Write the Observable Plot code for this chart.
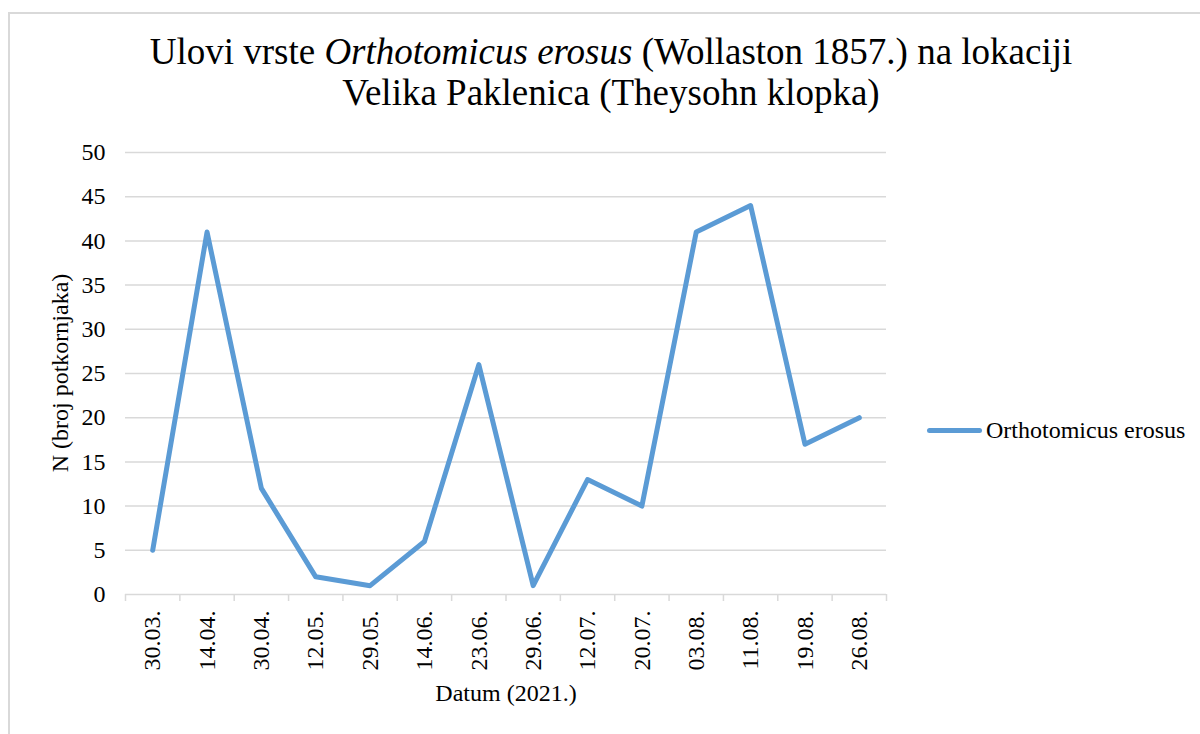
<!DOCTYPE html>
<html>
<head>
<meta charset="utf-8">
<script src="https://cdn.jsdelivr.net/npm/d3@7"></script>
<script src="https://cdn.jsdelivr.net/npm/@observablehq/plot@0.6"></script>
<style>
  html, body { margin: 0; padding: 0; background: #fff; }
  body { width: 1200px; height: 734px; position: relative; overflow: hidden; font-family: "Liberation Serif", "Times New Roman", Tinos, "DejaVu Serif", serif; color: #000; }
  #frame { position: absolute; left: 8px; top: 12px; width: 1300px; height: 800px; border: 2px solid #d9d9d9; box-sizing: border-box; }
  #title { position: absolute; left: 111px; width: 1000px; top: 31px; text-align: center; font-size: 37px; line-height: 41px; white-space: nowrap; }
  #chart { position: absolute; left: 0; top: 130px; }
  #ytitle { position: absolute; left: 60px; top: 373px; transform: translate(-50%, -50%) rotate(-90deg); font-size: 24px; white-space: nowrap; }
  #xtitle { position: absolute; left: 506px; top: 680px; transform: translateX(-50%); font-size: 24px; white-space: nowrap; }
  #legend { position: absolute; left: 927px; top: 417px; font-size: 24px; white-space: nowrap; display: flex; align-items: center; }
  #legend .sw { display: inline-block; width: 55px; height: 5px; border-radius: 3px; background: #5B9BD5; margin-right: 4px; }
</style>
</head>
<body>
<div id="frame"></div>
<div id="title">Ulovi vrste <i>Orthotomicus erosus</i> (Wollaston 1857.) na lokaciji<br>Velika Paklenica (Theysohn klopka)</div>
<div id="chart"></div>
<div id="ytitle">N (broj potkornjaka)</div>
<div id="xtitle">Datum (2021.)</div>
<div id="legend"><span class="sw"></span><span>Orthotomicus erosus</span></div>
<script>
const dates = ["30.03.", "14.04.", "30.04.", "12.05.", "29.05.", "14.06.", "23.06.", "29.06.", "12.07.", "20.07.", "03.08.", "11.08.", "19.08.", "26.08."];
const counts = [5, 41, 12, 2, 1, 6, 26, 1, 13, 10, 41, 44, 17, 20];
const yTicks = [0, 5, 10, 15, 20, 25, 30, 35, 40, 45, 50];
const seriesName = "Orthotomicus erosus";

const data = dates.map((d, i) => ({date: d, idx: i + 0.5, n: counts[i]}));
const centers = dates.map((d, i) => i + 0.5);
const bounds = d3.range(dates.length + 1);

const chart = Plot.plot({
  width: 1200,
  height: 604,
  marginLeft: 125,
  marginRight: 314,
  marginTop: 22,
  marginBottom: 140,
  style: {fontFamily: "'Liberation Serif', 'Times New Roman', Tinos, 'DejaVu Serif', serif", fontSize: "24px", color: "#000", background: "transparent"},
  x: {type: "linear", domain: [0, dates.length]},
  y: {domain: [0, 50]},
  marks: [
    Plot.ruleY(yTicks.filter(t => t > 0), {stroke: "#d9d9d9", strokeWidth: 1.5}),
    Plot.ruleY([0], {stroke: "#d9d9d9", strokeWidth: 1.5}),
    Plot.axisY({ticks: yTicks, tickSize: 0, tickPadding: 20, label: null, fill: "#000"}),
    Plot.axisX({ticks: bounds, tickSize: 7, stroke: "#d9d9d9", strokeWidth: 1.5, tickFormat: () => "", label: null}),
    Plot.axisX({ticks: centers, tickSize: 0, tickPadding: 16, tickRotate: -90, tickFormat: d => dates[Math.floor(d)], label: null, fill: "#000"}),
    Plot.line(data, {x: "idx", y: "n", stroke: "#5B9BD5", strokeWidth: 5, strokeLinejoin: "round", strokeLinecap: "round"})
  ]
});
document.getElementById("chart").appendChild(chart);
</script>
</body>
</html>
